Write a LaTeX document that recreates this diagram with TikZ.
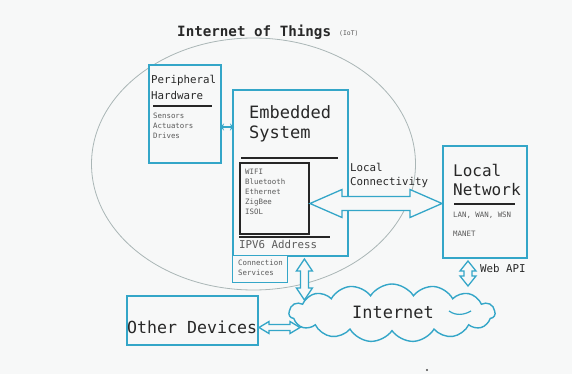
\documentclass[tikz,border=0pt]{standalone}
\usepackage{fontspec}
\setmonofont{DejaVu Sans Mono}
\usetikzlibrary{shapes.symbols,calc,arrows.meta}
\definecolor{bg}{RGB}{247,248,248}
\definecolor{iotblue}{RGB}{52,166,200}
\definecolor{ringgrey}{RGB}{170,182,182}
\definecolor{txt}{RGB}{40,40,40}
\definecolor{smalltxt}{RGB}{90,90,90}
\tikzset{
  bluebox/.style={draw=iotblue, line width=2pt, fill=bg, inner sep=0pt},
  thinbox/.style={draw=iotblue, line width=1.4pt, fill=bg, inner sep=0pt},
  innerbox/.style={draw=black!85, line width=2pt, inner sep=0pt},
  rule/.style={draw=black!85, line width=2.2pt},
  bigtxt/.style={font=\ttfamily\fontsize{17}{19}\selectfont, text=txt, inner sep=0pt, anchor=west},
  midtxt/.style={font=\ttfamily\fontsize{10.8}{12}\selectfont, text=txt, inner sep=0pt, anchor=west},
  smltxt/.style={font=\ttfamily\fontsize{7.4}{9}\selectfont, text=smalltxt, inner sep=0pt, anchor=west},
  blockarrow/.style={draw=iotblue, line width=1.3pt, fill=bg, line join=miter},
}
% horizontal double block arrow: #1 start, #2 end, #3 head length, #4 head half, #5 shaft half
\newcommand\hblock[5]{%
  \draw[blockarrow] let \p1=(#1), \p2=(#2) in
    (\x1,\y1) -- (\x1+#3,\y1+#4) -- (\x1+#3,\y1+#5) -- (\x2-#3,\y1+#5) -- (\x2-#3,\y1+#4)
    -- (\x2,\y1) -- (\x2-#3,\y1-#4) -- (\x2-#3,\y1-#5) -- (\x1+#3,\y1-#5) -- (\x1+#3,\y1-#4) -- cycle;}
% vertical double block arrow, #1 top, #2 bottom
\newcommand\vblock[5]{%
  \draw[blockarrow] let \p1=(#1), \p2=(#2) in
    (\x1,\y1) -- (\x1+#4,\y1-#3) -- (\x1+#5,\y1-#3) -- (\x1+#5,\y2+#3) -- (\x1+#4,\y2+#3)
    -- (\x1,\y2) -- (\x1-#4,\y2+#3) -- (\x1-#5,\y2+#3) -- (\x1-#5,\y1-#3) -- (\x1-#4,\y1-#3) -- cycle;}
\begin{document}
\begin{tikzpicture}[x=1pt,y=-1pt]
\useasboundingbox[fill=bg] (0,0) rectangle (572,374);

% IoT ring and title
\draw[ringgrey, line width=0.8pt] (253.5,164) ellipse [x radius=162, y radius=126];
\node[font=\ttfamily\bfseries\fontsize{14.2}{16}\selectfont, text=txt, inner sep=0pt, anchor=west] (title) at (177,32) {Internet of Things};
\node[font=\ttfamily\fontsize{6.4}{7}\selectfont, text=smalltxt, inner sep=0pt, anchor=west] (iot) at (339,33.5) {(IoT)};

% Peripheral hardware
\node[bluebox, minimum width=72pt, minimum height=98pt, anchor=north west] (ph) at (148,64) {};
\node[midtxt] (phA) at (151,80) {Peripheral};
\node[midtxt] (phB) at (151,95) {Hardware};
\draw[rule] (153,106) -- (212,106);
\node[smltxt] (ph1) at (153,116) {Sensors};
\node[smltxt] (ph2) at (153,126) {Actuators};
\node[smltxt] (ph3) at (153,136) {Drives};

% Embedded system
\node[bluebox, minimum width=115pt, minimum height=166pt, anchor=north west] (es) at (232,89) {};
\node[bigtxt] (esA) at (249,112) {Embedded};
\node[bigtxt] (esB) at (249,134) {System};
\draw[rule] (241,158) -- (338,158);
\node[innerbox, minimum width=69pt, minimum height=71pt, anchor=north west] (inner) at (239,162) {};
\node[smltxt] (w1) at (245,172) {WIFI};
\node[smltxt] (w2) at (245,182) {Bluetooth};
\node[smltxt] (w3) at (245,192) {Ethernet};
\node[smltxt] (w4) at (245,202) {ZigBee};
\node[smltxt] (w5) at (245,212) {ISOL};
\draw[draw=black!85, line width=1.6pt] (239,237) -- (330,237);
\node[midtxt, text=smalltxt] (ipv6) at (239,244) {IPV6 Address};

% Connection services
\node[thinbox, minimum width=55pt, minimum height=27pt, anchor=north west] (cs) at (232,255) {};
\node[smltxt] (cs1) at (238,263) {Connection};
\node[smltxt] (cs2) at (238,273) {Services};

% Local network
\node[bluebox, minimum width=84pt, minimum height=112pt, anchor=north west] (ln) at (442,145) {};
\node[bigtxt, font=\ttfamily\fontsize{16}{18}\selectfont] (lnA) at (453,170) {Local};
\node[bigtxt, font=\ttfamily\fontsize{16}{18}\selectfont] (lnB) at (453,190) {Network};
\draw[rule] (454,204) -- (515,204);
\node[smltxt] (ln1) at (453,215) {LAN, WAN, WSN};
\node[smltxt] (ln2) at (453,234) {MANET};

% Other devices
\node[bluebox, minimum width=131pt, minimum height=49pt, anchor=north west] (od) at (126,295) {};
\node[bigtxt, font=\ttfamily\fontsize{16.6}{18}\selectfont] (odT) at (127,327) {Other Devices};

% Internet cloud
\node[cloud, cloud puffs=15, cloud puff arc=115, aspect=3.5, draw=iotblue, line width=1.4pt, fill=bg,
      minimum width=206pt, minimum height=58pt, inner sep=0pt] (net) at (392,313) {};
\node[bigtxt, anchor=center] (netT) at (393,312) {Internet};
\draw[iotblue, line width=1.2pt] (449,311) .. controls (456,316) and (464,315) .. (471,311);

% connectors
\coordinate (phR) at ([xshift=-2pt, yshift=-13pt]ph.east);
\coordinate (esL0) at (phR -| es.west);
\coordinate (esL) at ([xshift=2pt]esL0);
\draw[iotblue, line width=1.3pt, {Stealth[length=4pt,width=7pt]}-{Stealth[length=4pt,width=7pt]}]
  (phR) -- (esL);

\coordinate (lcA) at ([yshift=-5pt]inner.east);
\coordinate (lcB) at (lcA -| ln.west);
\hblock{lcA}{lcB}{32pt}{14pt}{7pt}
\node[midtxt] (lc1) at (350,167) {Local};
\node[midtxt] (lc2) at (350,183) {Connectivity};

\coordinate (esT) at ([xshift=16pt, yshift=-2pt]cs.north east |- es.south);
\coordinate (esB) at (esT |- 0,300);
\vblock{esT}{esB}{12pt}{8pt}{4pt}

\coordinate (odA) at ([yshift=-7pt]od.east);
\coordinate (odB) at (odA -| 300,0);
\hblock{odA}{odB}{10pt}{6pt}{3pt}

\coordinate (waT) at ([xshift=-17pt, yshift=-2pt]ln.south);
\coordinate (waB) at (waT |- 0,286);
\vblock{waT}{waB}{10pt}{8pt}{4pt}
\node[midtxt] (wa) at (480,268) {Web API};

% stray dot
\fill[black!70] (427,370) circle (1.2pt);
\end{tikzpicture}
\end{document}
